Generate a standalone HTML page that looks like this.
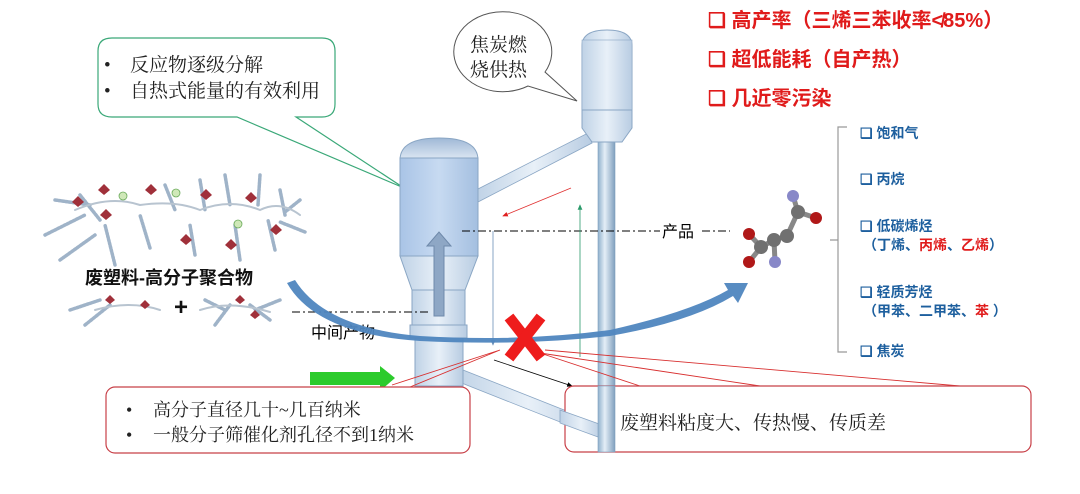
<!DOCTYPE html>
<html><head><meta charset="utf-8"><style>
html,body{margin:0;padding:0;background:#fff;}
svg{display:block;}
.ser{font-family:"Liberation Serif","Noto Serif CJK SC",serif;}
.sans{font-family:"Liberation Sans","Noto Sans CJK SC",sans-serif;}
</style></head><body>
<svg width="1080" height="494" viewBox="0 0 1080 494" xmlns="http://www.w3.org/2000/svg">
<defs>
<linearGradient id="pipe" x1="0" x2="1" y1="0" y2="0">
<stop offset="0" stop-color="#8fb0cc"/><stop offset="0.4" stop-color="#e4eef7"/><stop offset="1" stop-color="#7f9fbd"/></linearGradient>
<linearGradient id="body" x1="0" x2="1"><stop offset="0" stop-color="#a9c4e6"/><stop offset="0.5" stop-color="#c7daf1"/><stop offset="1" stop-color="#a4bfe0"/></linearGradient>
<linearGradient id="light" x1="0" x2="1"><stop offset="0" stop-color="#bfd2e6"/><stop offset="0.5" stop-color="#e8f0f8"/><stop offset="1" stop-color="#b8cce2"/></linearGradient>
<linearGradient id="top" x1="0" y1="0" x2="0" y2="1"><stop offset="0" stop-color="#9fb8d6"/><stop offset="1" stop-color="#dfe9f4"/></linearGradient>
<marker id="ar" markerWidth="8" markerHeight="8" refX="6" refY="4" orient="auto"><path d="M0,1 L7,4 L0,7z" fill="#e02020"/></marker>
<marker id="ag" markerWidth="8" markerHeight="8" refX="6" refY="4" orient="auto"><path d="M0,1 L7,4 L0,7z" fill="#2a9a6a"/></marker>
<marker id="ak" markerWidth="8" markerHeight="8" refX="6" refY="4" orient="auto"><path d="M0,1 L7,4 L0,7z" fill="#000"/></marker>
<marker id="ab" markerWidth="8" markerHeight="8" refX="6" refY="4" orient="auto"><path d="M0,1 L7,4 L0,7z" fill="#6a8fb8"/></marker>
</defs>

<path d="M112,38 H322 Q335,38 335,51 V104 Q335,117 322,117 H296 L404,188 L237,117 H112 Q98,117 98,104 V51 Q98,38 112,38Z" fill="#fff" stroke="#3aa878" stroke-width="1.2"/>
<text class="ser" font-size="19" fill="#222"><tspan x="104" y="71">•</tspan><tspan x="130" y="71">反应物逐级分解</tspan><tspan x="104" y="97">•</tspan><tspan x="130" y="97">自热式能量的有效利用</tspan></text>

<path d="M545,72 A49,40 0 1 0 528,86 L577,101 Z" fill="#fff" stroke="#555" stroke-width="1"/>
<text class="ser" font-size="19" fill="#222"><tspan x="470" y="51">焦炭燃</tspan><tspan x="470" y="76">烧供热</tspan></text>

<g class="sans" font-weight="bold" font-size="20" fill="#e01b1b">
<text x="708" y="27">❑ 高产率（三烯三苯收率≮85%）</text>
<text x="708" y="66">❑ 超低能耗（自产热）</text>
<text x="708" y="105">❑ 几近零污染</text>
</g>

<polygon points="476,190 588,133 592,143 478,202" fill="url(#light)" stroke="#8aa6c4" stroke-width="0.8"/>
<polygon points="458,368 602,425 598,437 454,380" fill="url(#light)" stroke="#8aa6c4" stroke-width="0.8"/>
<rect x="598" y="140" width="17" height="312" fill="url(#pipe)" stroke="#7f9fbd" stroke-width="0.6"/>
<path d="M582,110 V46 Q582,30 607,30 Q632,30 632,46 V110Z" fill="url(#light)" stroke="#8aa6c4"/>
<rect x="582" y="40" width="50" height="70" fill="url(#light)" stroke="#8aa6c4" stroke-width="0.6"/>
<path d="M582,110 H632 V128 L622,142 H592 L582,128Z" fill="url(#light)" stroke="#8aa6c4"/>

<path d="M400,160 Q400,138 439,138 Q478,138 478,160Z" fill="url(#top)" stroke="#8aa6c4"/>
<rect x="400" y="158" width="78" height="98" fill="url(#body)" stroke="#8aa6c4"/>
<path d="M400,256 H478 L465,290 H412Z" fill="url(#light)" stroke="#8aa6c4"/>
<rect x="412" y="290" width="53" height="35" fill="url(#light)" stroke="#8aa6c4"/>
<rect x="410" y="325" width="57" height="13" fill="url(#light)" stroke="#8aa6c4"/>
<rect x="415" y="338" width="48" height="50" fill="url(#light)" stroke="#8aa6c4"/>
<path d="M415,386 Q415,396 439,396 Q463,396 463,386Z" fill="url(#light)" stroke="#8aa6c4"/>
<polygon points="434,316 444,316 444,246 451,246 439,232 427,246 434,246" fill="#8ea7c5" stroke="#6f8aab"/>

<line x1="462" y1="231" x2="660" y2="231" stroke="#000" stroke-dasharray="8,3,2,3"/>
<line x1="702" y1="231" x2="730" y2="231" stroke="#000" stroke-dasharray="8,3,2,3"/>
<text class="sans" font-size="16" fill="#000" x="662" y="237">产品</text>
<line x1="292" y1="312" x2="430" y2="312" stroke="#000" stroke-dasharray="8,3,2,3"/>
<text class="sans" font-size="16" fill="#000" x="311" y="338">中间产物</text>

<line x1="571" y1="188" x2="503" y2="216" stroke="#e03030" stroke-width="0.8" marker-end="url(#ar)"/>
<line x1="580" y1="357" x2="580" y2="205" stroke="#2a9a6a" stroke-width="0.8" marker-end="url(#ag)"/>
<line x1="493" y1="231" x2="493" y2="345" stroke="#6a8fb8" stroke-width="0.8" marker-end="url(#ab)"/>
<line x1="494" y1="360" x2="572" y2="386" stroke="#000" stroke-width="0.8" marker-end="url(#ak)"/>

<path d="M295,280 Q325,328 420,336 Q520,342 610,330 Q690,312 728,290 L724,283 L748,283 L738,303 L733,296 Q690,322 610,336 Q520,346 420,341 Q316,334 287,283Z" fill="#4f86bf" opacity="0.95"/>

<g stroke="#d83030" stroke-width="0.9" fill="none">
<polyline points="392,385 500,350 410,387"/>
<polyline points="640,386 540,353 760,386"/>
<polyline points="545,350 960,386"/>
</g>
<g stroke="#ee1c1c" stroke-width="11" stroke-linecap="butt">
<line x1="509" y1="317" x2="541" y2="358"/><line x1="541" y1="317" x2="509" y2="358"/>
</g>

<polygon points="310,372 380,372 380,366 395,378 380,391 380,385 310,385" fill="#2ccb2c"/>

<rect x="106" y="387" width="364" height="66" rx="9" fill="#fff" stroke="#c84048" stroke-width="1.2"/>
<text class="ser" font-size="18" fill="#222"><tspan x="126" y="416">•</tspan><tspan x="153" y="416">高分子直径几十~几百纳米</tspan><tspan x="126" y="441">•</tspan><tspan x="153" y="441">一般分子筛催化剂孔径不到1纳米</tspan></text>
<rect x="565" y="386" width="466" height="66" rx="9" fill="#fff" stroke="#c84048" stroke-width="1.2"/>
<polygon points="560,410 602,425 598,437 560,423" fill="url(#light)" stroke="#8aa6c4" stroke-width="0.8"/>
<rect x="598" y="386" width="17" height="66" fill="url(#pipe)" stroke="#7f9fbd" stroke-width="0.6"/>
<text class="ser" font-size="19" fill="#222" x="620" y="429">废塑料粘度大、传热慢、传质差</text>

<g fill="none" stroke-linecap="round">
<g stroke="#9fb3c8" stroke-width="3.5" stroke-dasharray="2,1.5">
<path d="M55,200 L90,205 M45,235 L85,215 M60,260 L95,235 M80,195 L100,220 M115,265 L105,225 M150,248 L140,215 M165,185 L175,210 M200,180 L205,210 M195,255 L190,225 M225,175 L230,205 M240,260 L235,225 M260,175 L258,205 M275,250 L268,220 M280,190 L285,215 M300,200 L285,212 M305,232 L280,222"/>
<path d="M70,310 L100,300 M85,325 L110,305 M205,300 L225,310 M215,325 L230,305 M280,300 L255,310 M270,320 L250,305"/>
</g>
<g stroke="#b8c4d0" stroke-width="2">
<path d="M75,210 Q110,195 140,205 Q175,200 200,210 Q230,198 260,210 Q280,200 300,215"/>
<path d="M95,310 Q130,300 160,310 M200,310 Q230,300 270,312"/>
</g>
</g>
<g fill="#a0303a">
<path d="M72,202 l6,-6 l6,6 l-6,5z"/><path d="M98,190 l6,-6 l6,6 l-6,5z"/><path d="M145,190 l6,-6 l6,6 l-6,5z"/>
<path d="M200,195 l6,-6 l6,6 l-6,5z"/><path d="M245,198 l6,-6 l6,6 l-6,5z"/><path d="M270,230 l6,-6 l6,6 l-6,5z"/>
<path d="M180,240 l6,-6 l6,6 l-6,5z"/><path d="M225,245 l6,-6 l6,6 l-6,5z"/><path d="M100,215 l6,-6 l6,6 l-6,5z"/>
<path d="M105,300 l5,-5 l5,5 l-5,4z"/><path d="M140,305 l5,-5 l5,5 l-5,4z"/><path d="M235,300 l5,-5 l5,5 l-5,4z"/><path d="M250,315 l5,-5 l5,5 l-5,4z"/>
</g>
<g fill="#cfe8b8" stroke="#6aaa5a" stroke-width="0.8"><circle cx="123" cy="196" r="4"/><circle cx="176" cy="193" r="4"/><circle cx="238" cy="224" r="4"/></g>
<text class="sans" font-size="18" font-weight="bold" fill="#111" x="85" y="284">废塑料-高分子聚合物</text>
<text class="sans" font-size="24" font-weight="bold" fill="#111" x="174" y="315">+</text>

<g stroke="#888" stroke-width="5" fill="none"><path d="M749,234 L761,247 L749,262 M761,247 L774,240 L787,236 L798,212 L816,218 M798,212 L793,196 M774,240 L775,262"/></g>
<circle cx="749" cy="234" r="6" fill="#b01818"/><circle cx="749" cy="262" r="6" fill="#b01818"/>
<circle cx="761" cy="247" r="7" fill="#707070"/><circle cx="774" cy="240" r="7" fill="#707070"/>
<circle cx="787" cy="236" r="7" fill="#707070"/><circle cx="798" cy="212" r="7" fill="#707070"/>
<circle cx="816" cy="218" r="6" fill="#b01818"/><circle cx="793" cy="196" r="6" fill="#8888c8"/>
<circle cx="775" cy="262" r="6" fill="#8888c8"/>

<path d="M847,127 H838 V352 H847 M838,240 H830" fill="none" stroke="#999" stroke-width="1.2"/>
<g class="sans" font-size="14" font-weight="bold" fill="#1d5f9e">
<text x="860" y="138">❑  饱和气</text>
<text x="860" y="184">❑  丙烷</text>
<text x="860" y="231">❑   低碳烯烃</text>
<text x="863" y="250">（丁烯、<tspan fill="#e01b1b">丙烯</tspan>、<tspan fill="#e01b1b">乙烯</tspan>）</text>
<text x="860" y="297">❑   轻质芳烃</text>
<text x="863" y="316">（甲苯、二甲苯、<tspan fill="#e01b1b">苯</tspan> ）</text>
<text x="860" y="356">❑  焦炭</text>
</g>
</svg>
</body></html>
